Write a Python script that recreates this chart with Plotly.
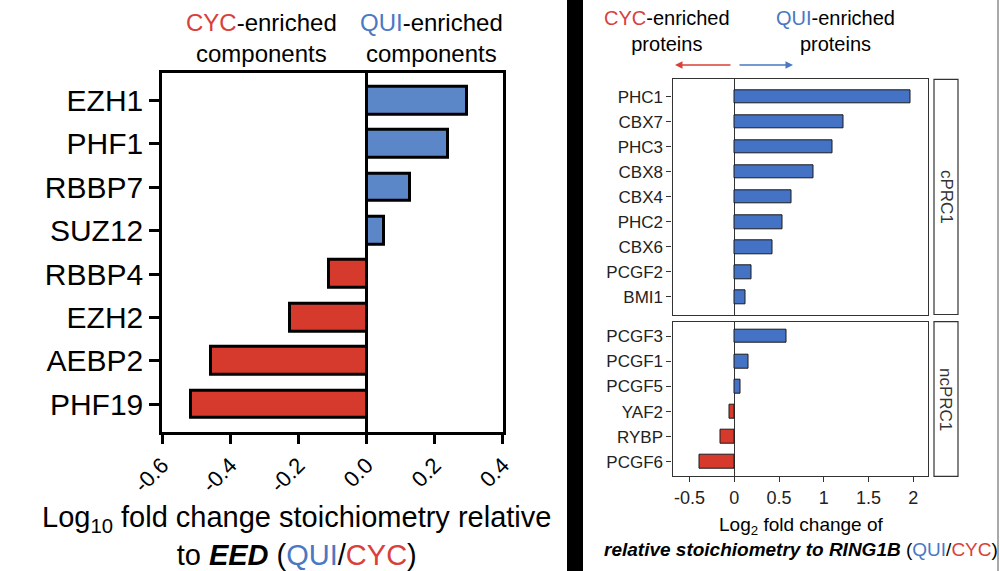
import plotly.graph_objects as go

# ---------------- data ----------------
left_genes = ["EZH1", "PHF1", "RBBP7", "SUZ12", "RBBP4", "EZH2", "AEBP2", "PHF19"]
left_vals = [0.295, 0.238, 0.128, 0.052, -0.111, -0.225, -0.457, -0.515]

c_genes = ["PHC1", "CBX7", "PHC3", "CBX8", "CBX4", "PHC2", "CBX6", "PCGF2", "BMI1"]
c_vals = [1.97, 1.22, 1.10, 0.885, 0.635, 0.535, 0.425, 0.19, 0.12]

nc_genes = ["PCGF3", "PCGF1", "PCGF5", "YAF2", "RYBP", "PCGF6"]
nc_vals = [0.58, 0.16, 0.07, -0.05, -0.15, -0.39]

left_xticks = [-0.6, -0.4, -0.2, 0.0, 0.2, 0.4]
left_xticklabels = ["-0.6", "-0.4", "-0.2", "0.0", "0.2", "0.4"]
right_xticks = [-0.5, 0, 0.5, 1, 1.5, 2]
right_xticklabels = ["-0.5", "0", "0.5", "1", "1.5", "2"]

facet_labels = ["cPRC1", "ncPRC1"]

# ---------------- style ----------------
FONT = "Liberation Sans, Arial, sans-serif"
BLUE_L = "#5b87c8"
RED_L = "#d63a2c"
BLUE_R = "#4472c4"
RED_R = "#d63a2c"
TXT_RED = "#d9403a"
TXT_BLUE = "#4a78c2"
DARK = "#333333"


def colors(vals, pos, neg):
    return [pos if v > 0 else neg for v in vals]


fig = go.Figure()

fig.add_trace(go.Bar(
    x=left_vals, y=left_genes, orientation="h", width=0.64,
    marker=dict(color=colors(left_vals, BLUE_L, RED_L), line=dict(color="black", width=3)),
    xaxis="x", yaxis="y", showlegend=False, hoverinfo="x+y"))

fig.add_trace(go.Bar(
    x=c_vals, y=c_genes, orientation="h", width=0.55,
    marker=dict(color=colors(c_vals, BLUE_R, RED_R), line=dict(color="#1a1a1a", width=1)),
    xaxis="x2", yaxis="y2", showlegend=False, hoverinfo="x+y"))

fig.add_trace(go.Bar(
    x=nc_vals, y=nc_genes, orientation="h", width=0.55,
    marker=dict(color=colors(nc_vals, BLUE_R, RED_R), line=dict(color="#1a1a1a", width=1)),
    xaxis="x3", yaxis="y3", showlegend=False, hoverinfo="x+y"))

H = 571.0
W = 1000.0


def py(px):
    return 1 - px / H


left_dom_x = [162 / W, 503 / W]
left_dom_y = [py(432), py(72.7)]
right_dom_x = [672.5 / W, 927.7 / W]
top_dom_y = [py(314.5), py(79.3)]
bot_dom_y = [py(476.3), py(321.7)]

fig.update_layout(
    width=1000, height=571,
    margin=dict(l=0, r=0, t=0, b=0, autoexpand=False),
    paper_bgcolor="white", plot_bgcolor="white",
    font=dict(family=FONT, color="black"),
    bargap=0,
    xaxis=dict(domain=left_dom_x, anchor="y", range=[-0.6005, 0.4005], automargin=False,
               tickmode="array", tickvals=left_xticks, ticktext=left_xticklabels,
               tickangle=-45, ticks="outside", ticklen=9, tickwidth=2.5, tickcolor="black",
               showline=True, linewidth=2.5, linecolor="black", mirror=True,
               showgrid=False, zeroline=True, zerolinecolor="black", zerolinewidth=2.5,
               tickfont=dict(size=22, color="black")),
    yaxis=dict(domain=left_dom_y, anchor="x", type="category", automargin=False,
               categoryorder="array", categoryarray=left_genes, range=[7.64, -0.64],
               ticks="outside", ticklen=10, tickwidth=2.5, tickcolor="black",
               showline=True, linewidth=2.5, linecolor="black", mirror=True,
               showgrid=False, tickfont=dict(size=30, color="black")),
    xaxis2=dict(domain=right_dom_x, anchor="y2", range=[-0.69, 2.16], automargin=False,
                showticklabels=False, ticks="",
                showline=True, linewidth=1.2, linecolor=DARK, mirror=True,
                showgrid=False, zeroline=True, zerolinecolor=DARK, zerolinewidth=1),
    yaxis2=dict(domain=top_dom_y, anchor="x2", type="category", automargin=False,
                categoryorder="array", categoryarray=c_genes, range=[8.7, -0.7],
                ticks="outside", ticklen=5, tickwidth=1.2, tickcolor=DARK,
                showline=True, linewidth=1.2, linecolor=DARK, mirror=True,
                showgrid=False, tickfont=dict(size=17, color="#222222")),
    xaxis3=dict(domain=right_dom_x, anchor="y3", range=[-0.69, 2.16], automargin=False,
                tickmode="array", tickvals=right_xticks, ticktext=right_xticklabels,
                ticks="outside", ticklen=5, tickwidth=1.2, tickcolor=DARK,
                showline=True, linewidth=1.2, linecolor=DARK, mirror=True,
                showgrid=False, zeroline=True, zerolinecolor=DARK, zerolinewidth=1,
                tickfont=dict(size=18, color="#222222")),
    yaxis3=dict(domain=bot_dom_y, anchor="x3", type="category", automargin=False,
                categoryorder="array", categoryarray=nc_genes, range=[5.58, -0.58],
                ticks="outside", ticklen=5, tickwidth=1.2, tickcolor=DARK,
                showline=True, linewidth=1.2, linecolor=DARK, mirror=True,
                showgrid=False, tickfont=dict(size=17, color="#222222")),
)

shapes = [
    dict(type="rect", xref="paper", yref="paper", x0=567 / W, x1=583 / W, y0=0, y1=1,
         fillcolor="black", line=dict(width=0)),
    dict(type="line", xref="paper", yref="paper", x0=998 / W, x1=998 / W, y0=0, y1=1,
         line=dict(color="#555555", width=1)),
    dict(type="rect", xref="paper", yref="paper", x0=934 / W, x1=958 / W,
         y0=top_dom_y[0], y1=top_dom_y[1], fillcolor="white", line=dict(color=DARK, width=1.2)),
    dict(type="rect", xref="paper", yref="paper", x0=934 / W, x1=958 / W,
         y0=bot_dom_y[0], y1=bot_dom_y[1], fillcolor="white", line=dict(color=DARK, width=1.2)),
]
fig.update_layout(shapes=shapes)


def span(txt, col):
    return f"<span style='color:{col}'>{txt}</span>"


ann = [
    # left panel headers
    dict(text=span("CYC", TXT_RED) + "-enriched<br>components", x=261 / W, y=py(38),
         font=dict(size=24)),
    dict(text=span("QUI", TXT_BLUE) + "-enriched<br>components", x=431 / W, y=py(38),
         font=dict(size=24)),
    # left x title
    dict(text="Log<sub>10</sub> fold change stoichiometry relative<br>to <b><i>EED</i></b> ("
              + span("QUI", TXT_BLUE) + "/" + span("CYC", TXT_RED) + ")",
         x=296 / W, y=py(536), font=dict(size=29)),
    # right headers
    dict(text=span("CYC", TXT_RED) + "-enriched<br>proteins", x=667 / W, y=py(31),
         font=dict(size=20)),
    dict(text=span("QUI", TXT_BLUE) + "-enriched<br>proteins", x=835 / W, y=py(31),
         font=dict(size=20)),
    # right x title
    dict(text="Log<sub>2</sub> fold change of<br><b><i>relative stoichiometry to RING1B</i></b> ("
              + span("QUI", TXT_BLUE) + "/" + span("CYC", TXT_RED) + ")",
         x=801 / W, y=py(537), font=dict(size=19)),
    # facet strip labels
    dict(text=facet_labels[0], x=946 / W, y=sum(top_dom_y) / 2, textangle=90,
         font=dict(size=17, color=DARK)),
    dict(text=facet_labels[1], x=946 / W, y=sum(bot_dom_y) / 2, textangle=90,
         font=dict(size=17, color=DARK)),
]
for a in ann:
    a.update(xref="paper", yref="paper", showarrow=False, xanchor="center", yanchor="middle")

# arrows
ann.append(dict(x=675 / W, y=py(65), xref="paper", yref="paper", ax=57, ay=0, text="",
                showarrow=True, arrowhead=2, arrowsize=1, arrowwidth=1.5, arrowcolor="#d9403a"))
ann.append(dict(x=793 / W, y=py(65), xref="paper", yref="paper", ax=-55, ay=0, text="",
                showarrow=True, arrowhead=2, arrowsize=1, arrowwidth=1.5, arrowcolor="#4a78c2"))

fig.update_layout(annotations=ann)

fig.write_html("out.html", config={"displayModeBar": False},
               post_script="document.body.style.margin='0px';")
